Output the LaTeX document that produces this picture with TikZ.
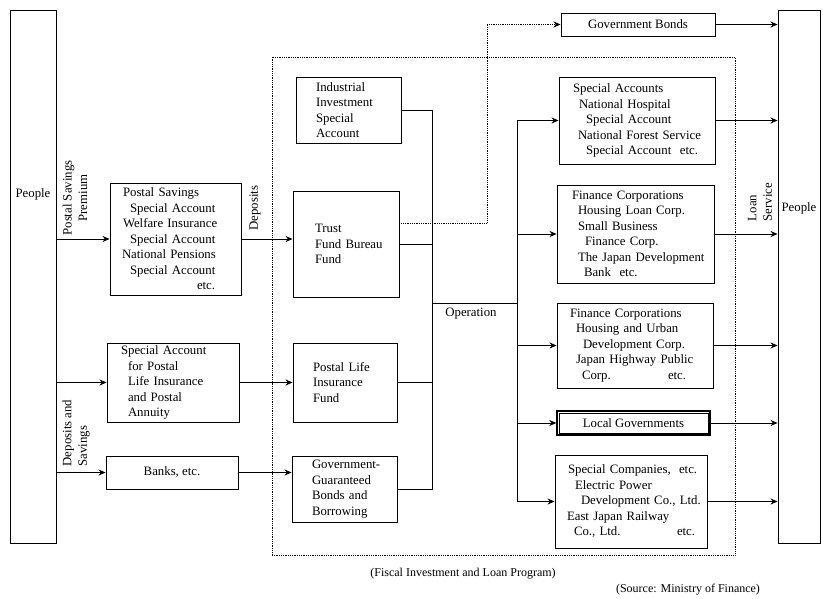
\documentclass[tikz,border=0pt]{standalone}
\usepackage{fontspec}
\setmainfont{Liberation Serif}
\usetikzlibrary{arrows.meta}
\begin{document}
\begin{tikzpicture}[x=1pt,y=-1pt,
  every node/.style={font=\fontsize{12.8}{15.5}\selectfont},
  acct/.style={draw,line width=0.9pt,align=left,inner xsep=4pt,inner ysep=0pt},
  abox/.style={draw,line width=0.9pt,align=center,inner sep=0pt},
  flow/.style={line width=0.8pt},
  arr/.style={line width=0.8pt,-{Stealth[length=7pt,width=6pt]}},
  vlab/.style={rotate=90,inner sep=0pt}]
\useasboundingbox (0,0) rectangle (823,599);

% frame of the programme
\node[draw,densely dotted,line width=0.8pt,minimum width=463,minimum height=498,inner sep=0pt] (prog) at (503.5,306) {};

% people on both sides
\node[abox,minimum width=46,minimum height=533,label={[yshift=82.5pt]center:People}] (people) at (33,276.5) {};
\node[abox,minimum width=42,minimum height=533,label={[yshift=68.5pt]center:People}] (peopler) at (799,276.5) {};

% sources
\node[acct,minimum width=131,minimum height=112,text width=123] (psav) at (175.5,239)
  {\hspace*{9pt}Postal Savings\\\hspace*{16pt}Special Account\\\hspace*{9pt}Welfare Insurance\\\hspace*{16pt}Special Account\\\hspace*{8pt}National Pensions\\\hspace*{16pt}Special Account\\\hspace*{83pt}etc.};
\node[acct,minimum width=132,minimum height=79,text width=124] (spost) at (173,382.5)
  {\hspace*{10pt}Special Account\\\hspace*{17pt}for Postal\\\hspace*{17pt}Life Insurance\\\hspace*{17pt}and Postal\\\hspace*{17pt}Annuity};
\node[abox,minimum width=132,minimum height=33] (banks) at (172,472.5) {Banks, etc.};

% funds
\node[acct,minimum width=105,minimum height=66,text width=97] (indus) at (348.5,110)
  {\hspace*{16pt}Industrial\\\hspace*{16pt}Investment\\\hspace*{16pt}Special\\\hspace*{16pt}Account};
\node[acct,minimum width=106,minimum height=106,text width=98] (trust) at (346,244)
  {\hspace*{18pt}Trust\\\hspace*{18pt}Fund Bureau\\\hspace*{18pt}Fund};
\node[acct,minimum width=104,minimum height=79,text width=96] (plife) at (345,382.5)
  {\hspace*{16pt}Postal Life\\\hspace*{16pt}Insurance\\\hspace*{16pt}Fund};
\node[acct,minimum width=105,minimum height=66,text width=97] (gguar) at (344.5,489)
  {\hspace*{16pt}Government-\\\hspace*{16pt}Guaranteed\\\hspace*{16pt}Bonds and\\\hspace*{16pt}Borrowing};

% users
\node[abox,minimum width=154,minimum height=23] (gbonds) at (638,24.5) {Government Bonds};
\node[acct,minimum width=156,minimum height=87,text width=148] (sacc) at (637,120.5)
  {\hspace*{10pt}Special Accounts\\\hspace*{16pt}National Hospital\\\hspace*{23pt}Special Account\\\hspace*{15pt}National Forest Service\\\hspace*{23pt}Special Account\ \ etc.};
\node[acct,minimum width=157,minimum height=98,text width=149] (fin1) at (635.5,234)
  {\hspace*{11pt}Finance Corporations\\\hspace*{17pt}Housing Loan Corp.\\\hspace*{17pt}Small Business\\\hspace*{24pt}Finance Corp.\\\hspace*{17pt}The Japan Development\\\hspace*{23pt}Bank\ \ etc.};
\node[acct,minimum width=156,minimum height=85,text width=148] (fin2) at (635,345.5)
  {\hspace*{9pt}Finance Corporations\\\hspace*{15pt}Housing and Urban\\\hspace*{22pt}Development Corp.\\\hspace*{15pt}Japan Highway Public\\\hspace*{21pt}\makebox[86pt][l]{Corp.}etc.};
\node[abox,line width=1.4pt,minimum width=153,minimum height=24] (local) at (633.5,423) {Local Governments};
\draw[line width=0.5pt] ([shift={(2.5pt,-2.5pt)}]local.north west) rectangle ([shift={(-2.5pt,2.5pt)}]local.south east);
\node[acct,minimum width=152,minimum height=93,text width=144] (specco) at (631,501.5)
  {\hspace*{9pt}\makebox[111pt][l]{Special Companies,}etc.\\\hspace*{16pt}Electric Power\\\hspace*{22pt}Development Co., Ltd.\\\hspace*{8pt}East Japan Railway\\\hspace*{15pt}\makebox[103pt][l]{Co., Ltd.}etc.\\[4pt]};

% turning points
\coordinate (coll) at (432,303);
\coordinate (dist) at (517,303);
\coordinate (bondturn) at (487,24.5);

% labels
\node[vlab,align=center] (lprem) at (75,198) {Postal Savings\\Premium};
\node[vlab] (ldep) at (255,208) {Deposits};
\node[vlab,align=left] (lsav) at (76,433) {Deposits and\\Savings};
\node[vlab,align=left] (lloan) at (760,202) {Loan\\Service};
\node (lop) at (471,314) {Operation};

% into the funds
\draw[arr] (people.east |- psav) -- (psav);
\draw[arr] (people.east |- spost) -- (spost);
\draw[arr] (people.east |- banks) -- (banks);
\draw[arr] (psav) -- (psav -| trust.west);
\draw[arr] (spost) -- (spost -| plife.west);
\draw[arr] (banks) -- (banks -| gguar.west);

% operation
\draw[flow] (indus.east) -| (gguar.east -| coll) -- (gguar.east);
\draw[flow] (trust.east) -- (trust.east -| coll);
\draw[flow] (plife.east) -- (plife.east -| coll);
\draw[flow] (coll) -- (dist);
\draw[flow] (dist |- sacc) -- (dist |- specco);
\draw[arr] (dist |- sacc) -- (sacc);
\draw[arr] (dist |- fin1) -- (fin1);
\draw[arr] (dist |- fin2) -- (fin2);
\draw[arr] (dist |- local) -- (local);
\draw[arr] (dist |- specco) -- (specco);
\draw[arr,densely dotted] ([yshift=21pt]trust.east) -| (bondturn) -- (gbonds);

% loan service
\draw[arr] (gbonds) -- (gbonds -| peopler.west);
\draw[arr] (sacc) -- (sacc -| peopler.west);
\draw[arr] (fin1) -- (fin1 -| peopler.west);
\draw[arr] (fin2) -- (fin2 -| peopler.west);
\draw[arr] (local) -- (local -| peopler.west);
\draw[arr] (specco) -- (specco -| peopler.west);

% captions
\node[font=\fontsize{12}{14}\selectfont] (cprog) at (463,574) {(Fiscal Investment and Loan Program)};
\node[font=\fontsize{12}{14}\selectfont] (csrc) at (688,590) {(Source: Ministry of Finance)};
\end{tikzpicture}
\end{document}
